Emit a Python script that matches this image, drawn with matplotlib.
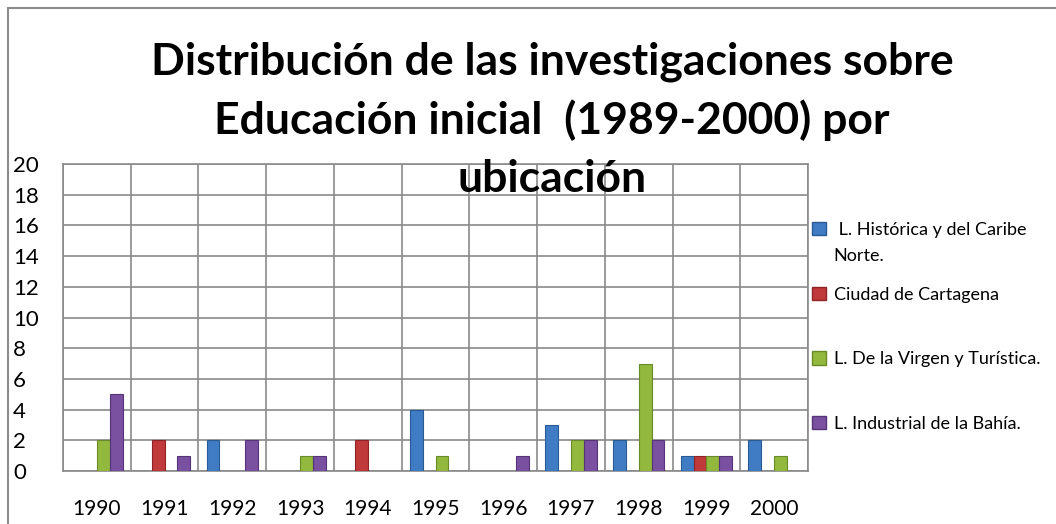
import numpy as np
import matplotlib.pyplot as plt
from matplotlib.patches import Rectangle, Patch

# data
years = ['1990', '1991', '1992', '1993', '1994', '1995', '1996', '1997', '1998', '1999', '2000']
historica = [0, 0, 2, 0, 0, 4, 0, 3, 2, 1, 2]
cartagena = [0, 2, 0, 0, 2, 0, 0, 0, 0, 1, 0]
virgen = [2, 0, 0, 1, 0, 1, 0, 2, 7, 1, 1]
industrial = [5, 1, 2, 1, 0, 0, 1, 2, 2, 1, 0]

series_names = [' L. Histórica y del Caribe', 'Ciudad de Cartagena',
                'L. De la Virgen y Turística.', 'L. Industrial de la Bahía.']
first_name_rest = 'Norte.'
colors = ['#3F7CC4', '#C0393B', '#93B83E', '#7A50A0']
edges = ['#2A5A94', '#8E2426', '#6A8A28', '#553578']
title_lines = ['Distribución de las investigaciones sobre',
               'Educación inicial  (1989-2000) por',
               'ubicación']

plt.rcParams['font.family'] = ['Lato', 'DejaVu Sans']

W, H = 1056, 524
fig = plt.figure(figsize=(W / 100, H / 100), dpi=100)
ax = fig.add_axes([63 / W, 1 - 471 / H, (808 - 63) / W, (471 - 164) / H])

# outer chart frame
fig.patches.append(Rectangle((8 / W, -0.05), 1.2, 1 - 8 / H + 0.05,
                             transform=fig.transFigure, fill=False,
                             edgecolor='#8c8c8c', linewidth=1.5))

x = np.arange(len(years))
w = 0.19
all_series = [historica, cartagena, virgen, industrial]
for i, vals in enumerate(all_series):
    vals = np.array(vals, dtype=float)
    pos = x + (i - 1.5) * w
    mask = vals > 0
    ax.bar(pos[mask], vals[mask], width=w, color=colors[i],
           edgecolor=edges[i], linewidth=0.8, zorder=3)

ax.set_xlim(-0.5, len(years) - 0.5)
ax.set_ylim(0, 20)
ax.set_yticks(range(0, 21, 2))
ax.set_xticks(x)
ax.set_xticklabels(years)
ax.set_xticks(np.arange(-0.5, len(years)), minor=True)
ax.grid(True, which='minor', axis='x', color='#8a8a8a', linewidth=1.2, zorder=0)
ax.grid(True, which='major', axis='y', color='#8a8a8a', linewidth=1.2, zorder=0)
ax.tick_params(axis='both', which='both', length=0)
ax.tick_params(axis='x', pad=20, labelsize=15)
ax.tick_params(axis='y', pad=36, labelsize=16)
for lbl in ax.get_yticklabels():
    lbl.set_horizontalalignment('left')
for s in ax.spines.values():
    s.set_color('#8a8a8a')
    s.set_linewidth(1.2)

for line, base in zip(title_lines, [75, 134, 192]):
    fig.text(552 / W, 1 - base / H, line, ha='center', va='baseline',
             fontsize=32, fontweight='bold', zorder=10)

handles = [Patch(facecolor=c, edgecolor=e) for c, e in zip(colors, edges)]
leg = fig.legend(handles, series_names, loc='center left', frameon=False,
                 fontsize=13, handlelength=0.75, handleheight=0.75,
                 handletextpad=0.45, borderpad=0, borderaxespad=0,
                 labelspacing=2.7, bbox_to_anchor=(812 / W, 1 - 327 / H))

# second line of the first legend entry, under the other labels
fig.canvas.draw()
inv = fig.transFigure.inverted()
t0 = leg.get_texts()[0].get_window_extent()
t1 = leg.get_texts()[1].get_window_extent()
x0 = inv.transform((t1.x0, 0))[0]
y0 = inv.transform((0, t0.y0 - 10))[1]
fig.text(x0, y0, first_name_rest, ha='left', va='top', fontsize=13)

fig.savefig('out.png', dpi=100)
